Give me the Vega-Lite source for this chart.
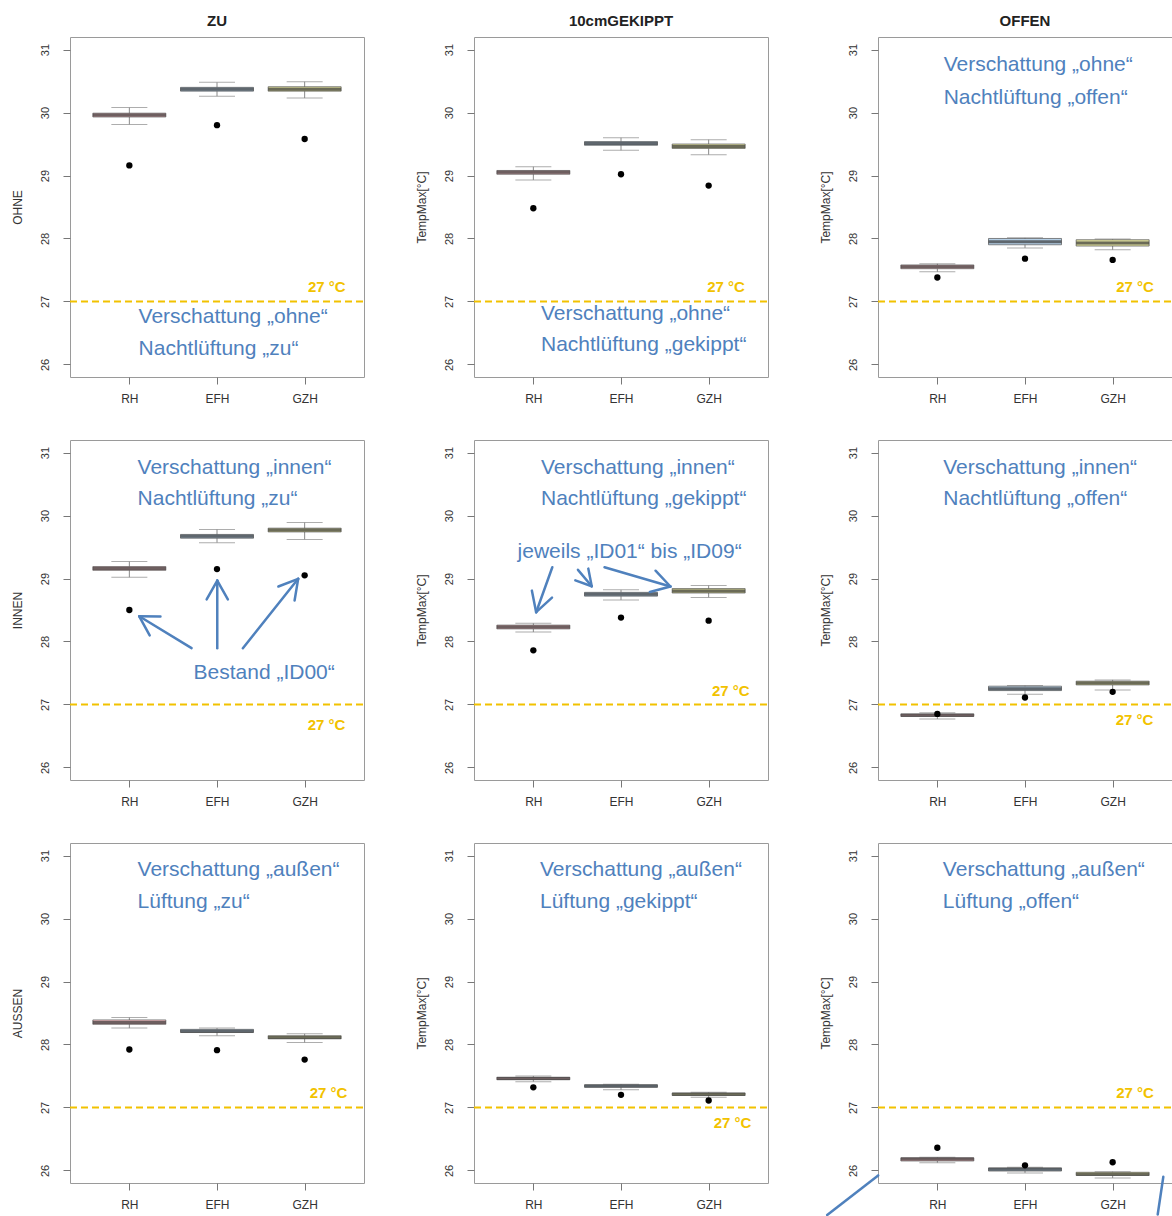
{
"$schema":"https://vega.github.io/schema/vega-lite/v6.json",
"background":"white",
"padding":{"left":10,"top":13,"right":0,"bottom":0},
"config":{
 "font":"Liberation Sans",
 "view":{"stroke":"#9a9a9a","strokeWidth":1},
 "axis":{"domain":false,"grid":false,"tickColor":"#777","tickSize":7,"labelFont":"Liberation Sans","labelFontSize":12,"labelColor":"#333","titleFont":"Liberation Sans","titleFontSize":12,"titleFontWeight":"normal","titleColor":"#333"},
 "axisY":{"labelAngle":-90,"labelAlign":"center","labelBaseline":"bottom","labelPadding":13,"labelFontSize":11,"minExtent":30,"maxExtent":30,"titlePadding":16},
 "axisX":{"labelPadding":9},
 "title":{"font":"Liberation Sans","fontSize":15,"fontWeight":"bold","color":"#222","offset":8,"anchor":"middle"},
 "concat":{"spacing":48}
},
"data":{"values":[
{"p":1,"k":"box","b":"RH","x":1,"lo":29.81,"q1":29.93,"med":29.96,"q3":29.99,"hi":30.08,"id00":29.16},
{"p":1,"k":"box","b":"EFH","x":2,"lo":30.26,"q1":30.34,"med":30.37,"q3":30.4,"hi":30.48,"id00":29.8},
{"p":1,"k":"box","b":"GZH","x":3,"lo":30.23,"q1":30.34,"med":30.37,"q3":30.41,"hi":30.49,"id00":29.58},
{"p":2,"k":"box","b":"RH","x":1,"lo":28.93,"q1":29.02,"med":29.05,"q3":29.08,"hi":29.14,"id00":28.48},
{"p":2,"k":"box","b":"EFH","x":2,"lo":29.4,"q1":29.48,"med":29.51,"q3":29.54,"hi":29.6,"id00":29.02},
{"p":2,"k":"box","b":"GZH","x":3,"lo":29.33,"q1":29.43,"med":29.46,"q3":29.5,"hi":29.57,"id00":28.84},
{"p":3,"k":"box","b":"RH","x":1,"lo":27.47,"q1":27.52,"med":27.55,"q3":27.58,"hi":27.6,"id00":27.38},
{"p":3,"k":"box","b":"EFH","x":2,"lo":27.85,"q1":27.9,"med":27.95,"q3":28.0,"hi":28.01,"id00":27.68},
{"p":3,"k":"box","b":"GZH","x":3,"lo":27.82,"q1":27.88,"med":27.93,"q3":27.98,"hi":27.99,"id00":27.66},
{"p":4,"k":"box","b":"RH","x":1,"lo":29.02,"q1":29.13,"med":29.16,"q3":29.19,"hi":29.27,"id00":28.5},
{"p":4,"k":"box","b":"EFH","x":2,"lo":29.57,"q1":29.64,"med":29.67,"q3":29.7,"hi":29.78,"id00":29.15},
{"p":4,"k":"box","b":"GZH","x":3,"lo":29.62,"q1":29.74,"med":29.77,"q3":29.8,"hi":29.89,"id00":29.05},
{"p":5,"k":"box","b":"RH","x":1,"lo":28.15,"q1":28.2,"med":28.23,"q3":28.26,"hi":28.29,"id00":27.86},
{"p":5,"k":"box","b":"EFH","x":2,"lo":28.66,"q1":28.72,"med":28.75,"q3":28.78,"hi":28.82,"id00":28.38},
{"p":5,"k":"box","b":"GZH","x":3,"lo":28.7,"q1":28.77,"med":28.8,"q3":28.84,"hi":28.89,"id00":28.33},
{"p":6,"k":"box","b":"RH","x":1,"lo":26.77,"q1":26.81,"med":26.83,"q3":26.85,"hi":26.87,"id00":26.85},
{"p":6,"k":"box","b":"EFH","x":2,"lo":27.16,"q1":27.22,"med":27.25,"q3":27.29,"hi":27.3,"id00":27.11},
{"p":6,"k":"box","b":"GZH","x":3,"lo":27.23,"q1":27.31,"med":27.34,"q3":27.37,"hi":27.39,"id00":27.2},
{"p":7,"k":"box","b":"RH","x":1,"lo":28.26,"q1":28.32,"med":28.35,"q3":28.39,"hi":28.43,"id00":27.92},
{"p":7,"k":"box","b":"EFH","x":2,"lo":28.14,"q1":28.19,"med":28.21,"q3":28.24,"hi":28.26,"id00":27.91},
{"p":7,"k":"box","b":"GZH","x":3,"lo":28.03,"q1":28.09,"med":28.11,"q3":28.14,"hi":28.17,"id00":27.76},
{"p":8,"k":"box","b":"RH","x":1,"lo":27.41,"q1":27.44,"med":27.46,"q3":27.48,"hi":27.5,"id00":27.32},
{"p":8,"k":"box","b":"EFH","x":2,"lo":27.28,"q1":27.32,"med":27.34,"q3":27.36,"hi":27.37,"id00":27.2},
{"p":8,"k":"box","b":"GZH","x":3,"lo":27.16,"q1":27.19,"med":27.21,"q3":27.23,"hi":27.24,"id00":27.11},
{"p":9,"k":"box","b":"RH","x":1,"lo":26.12,"q1":26.15,"med":26.18,"q3":26.2,"hi":26.21,"id00":26.36},
{"p":9,"k":"box","b":"EFH","x":2,"lo":25.96,"q1":25.99,"med":26.02,"q3":26.04,"hi":26.05,"id00":26.08},
{"p":9,"k":"box","b":"GZH","x":3,"lo":25.88,"q1":25.92,"med":25.94,"q3":25.97,"hi":25.98,"id00":26.13},
{"p":1,"k":"ref","y":27},{"p":2,"k":"ref","y":27},{"p":3,"k":"ref","y":27},
{"p":4,"k":"ref","y":27},{"p":5,"k":"ref","y":27},{"p":6,"k":"ref","y":27},
{"p":7,"k":"ref","y":27},{"p":8,"k":"ref","y":27},{"p":9,"k":"ref","y":27},
{"p":1,"k":"gold","x":3.468,"y":27.23,"t":"27 °C"},
{"p":2,"k":"gold","x":3.413,"y":27.23,"t":"27 °C"},
{"p":3,"k":"gold","x":3.471,"y":27.23,"t":"27 °C"},
{"p":4,"k":"gold","x":3.465,"y":26.68,"t":"27 °C"},
{"p":5,"k":"gold","x":3.468,"y":27.22,"t":"27 °C"},
{"p":6,"k":"gold","x":3.464,"y":26.75,"t":"27 °C"},
{"p":7,"k":"gold","x":3.487,"y":27.23,"t":"27 °C"},
{"p":8,"k":"gold","x":3.487,"y":26.76,"t":"27 °C"},
{"p":9,"k":"gold","x":3.471,"y":27.23,"t":"27 °C"},
{"p":1,"k":"note","x":1.105,"y":26.75,"t":"Verschattung „ohne“"},
{"p":1,"k":"note","x":1.105,"y":26.24,"t":"Nachtlüftung „zu“"},
{"p":2,"k":"note","x":1.087,"y":26.8,"t":"Verschattung „ohne“"},
{"p":2,"k":"note","x":1.087,"y":26.31,"t":"Nachtlüftung „gekippt“"},
{"p":3,"k":"note","x":1.072,"y":30.76,"t":"Verschattung „ohne“"},
{"p":3,"k":"note","x":1.072,"y":30.23,"t":"Nachtlüftung „offen“"},
{"p":4,"k":"note","x":1.094,"y":30.76,"t":"Verschattung „innen“"},
{"p":4,"k":"note","x":1.094,"y":30.27,"t":"Nachtlüftung „zu“"},
{"p":4,"k":"note","x":1.732,"y":27.5,"t":"Bestand „ID00“"},
{"p":5,"k":"note","x":1.087,"y":30.76,"t":"Verschattung „innen“"},
{"p":5,"k":"note","x":1.087,"y":30.27,"t":"Nachtlüftung „gekippt“"},
{"p":5,"k":"note","x":0.82,"y":29.42,"t":"jeweils „ID01“ bis „ID09“"},
{"p":6,"k":"note","x":1.067,"y":30.76,"t":"Verschattung „innen“"},
{"p":6,"k":"note","x":1.067,"y":30.27,"t":"Nachtlüftung „offen“"},
{"p":7,"k":"note","x":1.094,"y":30.77,"t":"Verschattung „außen“"},
{"p":7,"k":"note","x":1.094,"y":30.26,"t":"Lüftung „zu“"},
{"p":8,"k":"note","x":1.076,"y":30.77,"t":"Verschattung „außen“"},
{"p":8,"k":"note","x":1.076,"y":30.26,"t":"Lüftung „gekippt“"},
{"p":9,"k":"note","x":1.063,"y":30.77,"t":"Verschattung „außen“"},
{"p":9,"k":"note","x":1.063,"y":30.26,"t":"Lüftung „offen“"},
{"p":4,"k":"seg","x":1.71,"y":27.894,"x2":1.113,"y2":28.4},
{"p":4,"k":"seg","x":1.113,"y":28.4,"x2":1.232,"y2":28.097},
{"p":4,"k":"seg","x":1.113,"y":28.4,"x2":1.355,"y2":28.398},
{"p":4,"k":"seg","x":2.003,"y":27.894,"x2":2.003,"y2":28.968},
{"p":4,"k":"seg","x":2.003,"y":28.968,"x2":1.882,"y2":28.667},
{"p":4,"k":"seg","x":2.003,"y":28.968,"x2":2.124,"y2":28.667},
{"p":4,"k":"seg","x":2.295,"y":27.894,"x2":2.926,"y2":28.995},
{"p":4,"k":"seg","x":2.926,"y":28.995,"x2":2.7,"y2":28.873},
{"p":4,"k":"seg","x":2.926,"y":28.995,"x2":2.885,"y2":28.651},
{"p":5,"k":"seg","x":1.2165,"y":29.179,"x2":1.032,"y2":28.465},
{"p":5,"k":"seg","x":1.032,"y":28.465,"x2":1.213,"y2":28.697},
{"p":5,"k":"seg","x":1.032,"y":28.465,"x2":0.983,"y2":28.808},
{"p":5,"k":"seg","x":1.509,"y":29.138,"x2":1.666,"y2":28.878},
{"p":5,"k":"seg","x":1.666,"y":28.878,"x2":1.627,"y2":29.157},
{"p":5,"k":"seg","x":1.666,"y":28.878,"x2":1.479,"y2":28.97},
{"p":5,"k":"seg","x":1.812,"y":29.179,"x2":2.564,"y2":28.873},
{"p":5,"k":"seg","x":2.564,"y":28.873,"x2":2.394,"y2":29.124},
{"p":5,"k":"seg","x":2.564,"y":28.873,"x2":2.329,"y2":28.787},
{"p":9,"k":"seg","x":0.325,"y":25.92,"x2":-0.257,"y2":25.29},
{"p":9,"k":"seg","x":3.578,"y":25.9,"x2":3.514,"y2":25.3}
]},
"vconcat":[
{"hconcat":[
{"width":294,"height":340,"title":"ZU","transform":[{"filter":"datum.p==1"}],
 "encoding":{"x":{"field":"x","type":"quantitative","scale":{"domain":[0.38,3.62],"nice":false,"zero":false},"axis":{"values":[1,2,3],"labelExpr":"datum.value==1?'RH':datum.value==2?'EFH':'GZH'","title":null}},
  "y":{"field":"y","type":"quantitative","scale":{"domain":[25.8,31.2],"nice":false,"zero":false},"axis":{"values":[26,27,28,29,30,31],"title":"OHNE"}}},
 "layer":[
  {"transform":[{"filter":"datum.k=='ref'"}],"mark":{"type":"rule","color":"#f2c200","strokeWidth":2,"strokeDash":[7,4]},"encoding":{"x":{"value":0},"x2":{"value":"width"}}},
  {"transform":[{"filter":"datum.k=='box'"}],"layer":[
   {"mark":{"type":"rule","color":"#8a8a8a","strokeWidth":1},"encoding":{"y":{"field":"lo","type":"quantitative"},"y2":{"field":"hi"}}},
   {"mark":{"type":"tick","orient":"horizontal","size":36,"thickness":1,"color":"#8a8a8a"},"encoding":{"y":{"field":"lo","type":"quantitative"}}},
   {"mark":{"type":"tick","orient":"horizontal","size":36,"thickness":1,"color":"#8a8a8a"},"encoding":{"y":{"field":"hi","type":"quantitative"}}},
   {"mark":{"type":"bar","width":73,"stroke":"#555","strokeWidth":0.7},"encoding":{"y":{"field":"q1","type":"quantitative"},"y2":{"field":"q3"},"color":{"field":"b","type":"nominal","scale":{"domain":["RH","EFH","GZH"],"range":["#e8b4b8","#b4cfe6","#dede9c"]},"legend":null}}},
   {"mark":{"type":"tick","orient":"horizontal","size":73,"thickness":3,"color":"#3a3a3a"},"encoding":{"y":{"field":"med","type":"quantitative"}}},
   {"mark":{"type":"circle","color":"#000","size":40,"opacity":1},"encoding":{"y":{"field":"id00","type":"quantitative"}}}
  ]},
  {"transform":[{"filter":"datum.k=='seg'"}],"mark":{"type":"rule","color":"#4f81bd","strokeWidth":2.5,"strokeCap":"round","clip":false},"encoding":{"x2":{"field":"x2"},"y2":{"field":"y2"}}},
  {"transform":[{"filter":"datum.k=='note'"}],"mark":{"type":"text","align":"left","baseline":"middle","font":"Liberation Sans","fontSize":21,"color":"#4f81bd"},"encoding":{"text":{"field":"t"}}},
  {"transform":[{"filter":"datum.k=='gold'"}],"mark":{"type":"text","align":"right","baseline":"middle","font":"Liberation Sans","fontSize":15,"fontWeight":"bold","color":"#f2c200"},"encoding":{"text":{"field":"t"}}}
 ]},
{"width":294,"height":340,"title":"10cmGEKIPPT","transform":[{"filter":"datum.p==2"}],
 "encoding":{"x":{"field":"x","type":"quantitative","scale":{"domain":[0.38,3.62],"nice":false,"zero":false},"axis":{"values":[1,2,3],"labelExpr":"datum.value==1?'RH':datum.value==2?'EFH':'GZH'","title":null}},
  "y":{"field":"y","type":"quantitative","scale":{"domain":[25.8,31.2],"nice":false,"zero":false},"axis":{"values":[26,27,28,29,30,31],"title":"TempMax[°C]"}}},
 "layer":[
  {"transform":[{"filter":"datum.k=='ref'"}],"mark":{"type":"rule","color":"#f2c200","strokeWidth":2,"strokeDash":[7,4]},"encoding":{"x":{"value":0},"x2":{"value":"width"}}},
  {"transform":[{"filter":"datum.k=='box'"}],"layer":[
   {"mark":{"type":"rule","color":"#8a8a8a","strokeWidth":1},"encoding":{"y":{"field":"lo","type":"quantitative"},"y2":{"field":"hi"}}},
   {"mark":{"type":"tick","orient":"horizontal","size":36,"thickness":1,"color":"#8a8a8a"},"encoding":{"y":{"field":"lo","type":"quantitative"}}},
   {"mark":{"type":"tick","orient":"horizontal","size":36,"thickness":1,"color":"#8a8a8a"},"encoding":{"y":{"field":"hi","type":"quantitative"}}},
   {"mark":{"type":"bar","width":73,"stroke":"#555","strokeWidth":0.7},"encoding":{"y":{"field":"q1","type":"quantitative"},"y2":{"field":"q3"},"color":{"field":"b","type":"nominal","scale":{"domain":["RH","EFH","GZH"],"range":["#e8b4b8","#b4cfe6","#dede9c"]},"legend":null}}},
   {"mark":{"type":"tick","orient":"horizontal","size":73,"thickness":3,"color":"#3a3a3a"},"encoding":{"y":{"field":"med","type":"quantitative"}}},
   {"mark":{"type":"circle","color":"#000","size":40,"opacity":1},"encoding":{"y":{"field":"id00","type":"quantitative"}}}
  ]},
  {"transform":[{"filter":"datum.k=='seg'"}],"mark":{"type":"rule","color":"#4f81bd","strokeWidth":2.5,"strokeCap":"round","clip":false},"encoding":{"x2":{"field":"x2"},"y2":{"field":"y2"}}},
  {"transform":[{"filter":"datum.k=='note'"}],"mark":{"type":"text","align":"left","baseline":"middle","font":"Liberation Sans","fontSize":21,"color":"#4f81bd"},"encoding":{"text":{"field":"t"}}},
  {"transform":[{"filter":"datum.k=='gold'"}],"mark":{"type":"text","align":"right","baseline":"middle","font":"Liberation Sans","fontSize":15,"fontWeight":"bold","color":"#f2c200"},"encoding":{"text":{"field":"t"}}}
 ]},
{"width":294,"height":340,"title":"OFFEN","transform":[{"filter":"datum.p==3"}],
 "encoding":{"x":{"field":"x","type":"quantitative","scale":{"domain":[0.38,3.62],"nice":false,"zero":false},"axis":{"values":[1,2,3],"labelExpr":"datum.value==1?'RH':datum.value==2?'EFH':'GZH'","title":null}},
  "y":{"field":"y","type":"quantitative","scale":{"domain":[25.8,31.2],"nice":false,"zero":false},"axis":{"values":[26,27,28,29,30,31],"title":"TempMax[°C]"}}},
 "layer":[
  {"transform":[{"filter":"datum.k=='ref'"}],"mark":{"type":"rule","color":"#f2c200","strokeWidth":2,"strokeDash":[7,4]},"encoding":{"x":{"value":0},"x2":{"value":"width"}}},
  {"transform":[{"filter":"datum.k=='box'"}],"layer":[
   {"mark":{"type":"rule","color":"#8a8a8a","strokeWidth":1},"encoding":{"y":{"field":"lo","type":"quantitative"},"y2":{"field":"hi"}}},
   {"mark":{"type":"tick","orient":"horizontal","size":36,"thickness":1,"color":"#8a8a8a"},"encoding":{"y":{"field":"lo","type":"quantitative"}}},
   {"mark":{"type":"tick","orient":"horizontal","size":36,"thickness":1,"color":"#8a8a8a"},"encoding":{"y":{"field":"hi","type":"quantitative"}}},
   {"mark":{"type":"bar","width":73,"stroke":"#555","strokeWidth":0.7},"encoding":{"y":{"field":"q1","type":"quantitative"},"y2":{"field":"q3"},"color":{"field":"b","type":"nominal","scale":{"domain":["RH","EFH","GZH"],"range":["#e8b4b8","#b4cfe6","#dede9c"]},"legend":null}}},
   {"mark":{"type":"tick","orient":"horizontal","size":73,"thickness":3,"color":"#3a3a3a"},"encoding":{"y":{"field":"med","type":"quantitative"}}},
   {"mark":{"type":"circle","color":"#000","size":40,"opacity":1},"encoding":{"y":{"field":"id00","type":"quantitative"}}}
  ]},
  {"transform":[{"filter":"datum.k=='seg'"}],"mark":{"type":"rule","color":"#4f81bd","strokeWidth":2.5,"strokeCap":"round","clip":false},"encoding":{"x2":{"field":"x2"},"y2":{"field":"y2"}}},
  {"transform":[{"filter":"datum.k=='note'"}],"mark":{"type":"text","align":"left","baseline":"middle","font":"Liberation Sans","fontSize":21,"color":"#4f81bd"},"encoding":{"text":{"field":"t"}}},
  {"transform":[{"filter":"datum.k=='gold'"}],"mark":{"type":"text","align":"right","baseline":"middle","font":"Liberation Sans","fontSize":15,"fontWeight":"bold","color":"#f2c200"},"encoding":{"text":{"field":"t"}}}
 ]}
]},
{"hconcat":[
{"width":294,"height":340,"transform":[{"filter":"datum.p==4"}],
 "encoding":{"x":{"field":"x","type":"quantitative","scale":{"domain":[0.38,3.62],"nice":false,"zero":false},"axis":{"values":[1,2,3],"labelExpr":"datum.value==1?'RH':datum.value==2?'EFH':'GZH'","title":null}},
  "y":{"field":"y","type":"quantitative","scale":{"domain":[25.8,31.2],"nice":false,"zero":false},"axis":{"values":[26,27,28,29,30,31],"title":"INNEN"}}},
 "layer":[
  {"transform":[{"filter":"datum.k=='ref'"}],"mark":{"type":"rule","color":"#f2c200","strokeWidth":2,"strokeDash":[7,4]},"encoding":{"x":{"value":0},"x2":{"value":"width"}}},
  {"transform":[{"filter":"datum.k=='box'"}],"layer":[
   {"mark":{"type":"rule","color":"#8a8a8a","strokeWidth":1},"encoding":{"y":{"field":"lo","type":"quantitative"},"y2":{"field":"hi"}}},
   {"mark":{"type":"tick","orient":"horizontal","size":36,"thickness":1,"color":"#8a8a8a"},"encoding":{"y":{"field":"lo","type":"quantitative"}}},
   {"mark":{"type":"tick","orient":"horizontal","size":36,"thickness":1,"color":"#8a8a8a"},"encoding":{"y":{"field":"hi","type":"quantitative"}}},
   {"mark":{"type":"bar","width":73,"stroke":"#555","strokeWidth":0.7},"encoding":{"y":{"field":"q1","type":"quantitative"},"y2":{"field":"q3"},"color":{"field":"b","type":"nominal","scale":{"domain":["RH","EFH","GZH"],"range":["#e8b4b8","#b4cfe6","#dede9c"]},"legend":null}}},
   {"mark":{"type":"tick","orient":"horizontal","size":73,"thickness":3,"color":"#3a3a3a"},"encoding":{"y":{"field":"med","type":"quantitative"}}},
   {"mark":{"type":"circle","color":"#000","size":40,"opacity":1},"encoding":{"y":{"field":"id00","type":"quantitative"}}}
  ]},
  {"transform":[{"filter":"datum.k=='seg'"}],"mark":{"type":"rule","color":"#4f81bd","strokeWidth":2.5,"strokeCap":"round","clip":false},"encoding":{"x2":{"field":"x2"},"y2":{"field":"y2"}}},
  {"transform":[{"filter":"datum.k=='note'"}],"mark":{"type":"text","align":"left","baseline":"middle","font":"Liberation Sans","fontSize":21,"color":"#4f81bd"},"encoding":{"text":{"field":"t"}}},
  {"transform":[{"filter":"datum.k=='gold'"}],"mark":{"type":"text","align":"right","baseline":"middle","font":"Liberation Sans","fontSize":15,"fontWeight":"bold","color":"#f2c200"},"encoding":{"text":{"field":"t"}}}
 ]},
{"width":294,"height":340,"transform":[{"filter":"datum.p==5"}],
 "encoding":{"x":{"field":"x","type":"quantitative","scale":{"domain":[0.38,3.62],"nice":false,"zero":false},"axis":{"values":[1,2,3],"labelExpr":"datum.value==1?'RH':datum.value==2?'EFH':'GZH'","title":null}},
  "y":{"field":"y","type":"quantitative","scale":{"domain":[25.8,31.2],"nice":false,"zero":false},"axis":{"values":[26,27,28,29,30,31],"title":"TempMax[°C]"}}},
 "layer":[
  {"transform":[{"filter":"datum.k=='ref'"}],"mark":{"type":"rule","color":"#f2c200","strokeWidth":2,"strokeDash":[7,4]},"encoding":{"x":{"value":0},"x2":{"value":"width"}}},
  {"transform":[{"filter":"datum.k=='box'"}],"layer":[
   {"mark":{"type":"rule","color":"#8a8a8a","strokeWidth":1},"encoding":{"y":{"field":"lo","type":"quantitative"},"y2":{"field":"hi"}}},
   {"mark":{"type":"tick","orient":"horizontal","size":36,"thickness":1,"color":"#8a8a8a"},"encoding":{"y":{"field":"lo","type":"quantitative"}}},
   {"mark":{"type":"tick","orient":"horizontal","size":36,"thickness":1,"color":"#8a8a8a"},"encoding":{"y":{"field":"hi","type":"quantitative"}}},
   {"mark":{"type":"bar","width":73,"stroke":"#555","strokeWidth":0.7},"encoding":{"y":{"field":"q1","type":"quantitative"},"y2":{"field":"q3"},"color":{"field":"b","type":"nominal","scale":{"domain":["RH","EFH","GZH"],"range":["#e8b4b8","#b4cfe6","#dede9c"]},"legend":null}}},
   {"mark":{"type":"tick","orient":"horizontal","size":73,"thickness":3,"color":"#3a3a3a"},"encoding":{"y":{"field":"med","type":"quantitative"}}},
   {"mark":{"type":"circle","color":"#000","size":40,"opacity":1},"encoding":{"y":{"field":"id00","type":"quantitative"}}}
  ]},
  {"transform":[{"filter":"datum.k=='seg'"}],"mark":{"type":"rule","color":"#4f81bd","strokeWidth":2.5,"strokeCap":"round","clip":false},"encoding":{"x2":{"field":"x2"},"y2":{"field":"y2"}}},
  {"transform":[{"filter":"datum.k=='note'"}],"mark":{"type":"text","align":"left","baseline":"middle","font":"Liberation Sans","fontSize":21,"color":"#4f81bd"},"encoding":{"text":{"field":"t"}}},
  {"transform":[{"filter":"datum.k=='gold'"}],"mark":{"type":"text","align":"right","baseline":"middle","font":"Liberation Sans","fontSize":15,"fontWeight":"bold","color":"#f2c200"},"encoding":{"text":{"field":"t"}}}
 ]},
{"width":294,"height":340,"transform":[{"filter":"datum.p==6"}],
 "encoding":{"x":{"field":"x","type":"quantitative","scale":{"domain":[0.38,3.62],"nice":false,"zero":false},"axis":{"values":[1,2,3],"labelExpr":"datum.value==1?'RH':datum.value==2?'EFH':'GZH'","title":null}},
  "y":{"field":"y","type":"quantitative","scale":{"domain":[25.8,31.2],"nice":false,"zero":false},"axis":{"values":[26,27,28,29,30,31],"title":"TempMax[°C]"}}},
 "layer":[
  {"transform":[{"filter":"datum.k=='ref'"}],"mark":{"type":"rule","color":"#f2c200","strokeWidth":2,"strokeDash":[7,4]},"encoding":{"x":{"value":0},"x2":{"value":"width"}}},
  {"transform":[{"filter":"datum.k=='box'"}],"layer":[
   {"mark":{"type":"rule","color":"#8a8a8a","strokeWidth":1},"encoding":{"y":{"field":"lo","type":"quantitative"},"y2":{"field":"hi"}}},
   {"mark":{"type":"tick","orient":"horizontal","size":36,"thickness":1,"color":"#8a8a8a"},"encoding":{"y":{"field":"lo","type":"quantitative"}}},
   {"mark":{"type":"tick","orient":"horizontal","size":36,"thickness":1,"color":"#8a8a8a"},"encoding":{"y":{"field":"hi","type":"quantitative"}}},
   {"mark":{"type":"bar","width":73,"stroke":"#555","strokeWidth":0.7},"encoding":{"y":{"field":"q1","type":"quantitative"},"y2":{"field":"q3"},"color":{"field":"b","type":"nominal","scale":{"domain":["RH","EFH","GZH"],"range":["#e8b4b8","#b4cfe6","#dede9c"]},"legend":null}}},
   {"mark":{"type":"tick","orient":"horizontal","size":73,"thickness":3,"color":"#3a3a3a"},"encoding":{"y":{"field":"med","type":"quantitative"}}},
   {"mark":{"type":"circle","color":"#000","size":40,"opacity":1},"encoding":{"y":{"field":"id00","type":"quantitative"}}}
  ]},
  {"transform":[{"filter":"datum.k=='seg'"}],"mark":{"type":"rule","color":"#4f81bd","strokeWidth":2.5,"strokeCap":"round","clip":false},"encoding":{"x2":{"field":"x2"},"y2":{"field":"y2"}}},
  {"transform":[{"filter":"datum.k=='note'"}],"mark":{"type":"text","align":"left","baseline":"middle","font":"Liberation Sans","fontSize":21,"color":"#4f81bd"},"encoding":{"text":{"field":"t"}}},
  {"transform":[{"filter":"datum.k=='gold'"}],"mark":{"type":"text","align":"right","baseline":"middle","font":"Liberation Sans","fontSize":15,"fontWeight":"bold","color":"#f2c200"},"encoding":{"text":{"field":"t"}}}
 ]}
]},
{"hconcat":[
{"width":294,"height":340,"transform":[{"filter":"datum.p==7"}],
 "encoding":{"x":{"field":"x","type":"quantitative","scale":{"domain":[0.38,3.62],"nice":false,"zero":false},"axis":{"values":[1,2,3],"labelExpr":"datum.value==1?'RH':datum.value==2?'EFH':'GZH'","title":null}},
  "y":{"field":"y","type":"quantitative","scale":{"domain":[25.8,31.2],"nice":false,"zero":false},"axis":{"values":[26,27,28,29,30,31],"title":"AUSSEN"}}},
 "layer":[
  {"transform":[{"filter":"datum.k=='ref'"}],"mark":{"type":"rule","color":"#f2c200","strokeWidth":2,"strokeDash":[7,4]},"encoding":{"x":{"value":0},"x2":{"value":"width"}}},
  {"transform":[{"filter":"datum.k=='box'"}],"layer":[
   {"mark":{"type":"rule","color":"#8a8a8a","strokeWidth":1},"encoding":{"y":{"field":"lo","type":"quantitative"},"y2":{"field":"hi"}}},
   {"mark":{"type":"tick","orient":"horizontal","size":36,"thickness":1,"color":"#8a8a8a"},"encoding":{"y":{"field":"lo","type":"quantitative"}}},
   {"mark":{"type":"tick","orient":"horizontal","size":36,"thickness":1,"color":"#8a8a8a"},"encoding":{"y":{"field":"hi","type":"quantitative"}}},
   {"mark":{"type":"bar","width":73,"stroke":"#555","strokeWidth":0.7},"encoding":{"y":{"field":"q1","type":"quantitative"},"y2":{"field":"q3"},"color":{"field":"b","type":"nominal","scale":{"domain":["RH","EFH","GZH"],"range":["#e8b4b8","#b4cfe6","#dede9c"]},"legend":null}}},
   {"mark":{"type":"tick","orient":"horizontal","size":73,"thickness":3,"color":"#3a3a3a"},"encoding":{"y":{"field":"med","type":"quantitative"}}},
   {"mark":{"type":"circle","color":"#000","size":40,"opacity":1},"encoding":{"y":{"field":"id00","type":"quantitative"}}}
  ]},
  {"transform":[{"filter":"datum.k=='seg'"}],"mark":{"type":"rule","color":"#4f81bd","strokeWidth":2.5,"strokeCap":"round","clip":false},"encoding":{"x2":{"field":"x2"},"y2":{"field":"y2"}}},
  {"transform":[{"filter":"datum.k=='note'"}],"mark":{"type":"text","align":"left","baseline":"middle","font":"Liberation Sans","fontSize":21,"color":"#4f81bd"},"encoding":{"text":{"field":"t"}}},
  {"transform":[{"filter":"datum.k=='gold'"}],"mark":{"type":"text","align":"right","baseline":"middle","font":"Liberation Sans","fontSize":15,"fontWeight":"bold","color":"#f2c200"},"encoding":{"text":{"field":"t"}}}
 ]},
{"width":294,"height":340,"transform":[{"filter":"datum.p==8"}],
 "encoding":{"x":{"field":"x","type":"quantitative","scale":{"domain":[0.38,3.62],"nice":false,"zero":false},"axis":{"values":[1,2,3],"labelExpr":"datum.value==1?'RH':datum.value==2?'EFH':'GZH'","title":null}},
  "y":{"field":"y","type":"quantitative","scale":{"domain":[25.8,31.2],"nice":false,"zero":false},"axis":{"values":[26,27,28,29,30,31],"title":"TempMax[°C]"}}},
 "layer":[
  {"transform":[{"filter":"datum.k=='ref'"}],"mark":{"type":"rule","color":"#f2c200","strokeWidth":2,"strokeDash":[7,4]},"encoding":{"x":{"value":0},"x2":{"value":"width"}}},
  {"transform":[{"filter":"datum.k=='box'"}],"layer":[
   {"mark":{"type":"rule","color":"#8a8a8a","strokeWidth":1},"encoding":{"y":{"field":"lo","type":"quantitative"},"y2":{"field":"hi"}}},
   {"mark":{"type":"tick","orient":"horizontal","size":36,"thickness":1,"color":"#8a8a8a"},"encoding":{"y":{"field":"lo","type":"quantitative"}}},
   {"mark":{"type":"tick","orient":"horizontal","size":36,"thickness":1,"color":"#8a8a8a"},"encoding":{"y":{"field":"hi","type":"quantitative"}}},
   {"mark":{"type":"bar","width":73,"stroke":"#555","strokeWidth":0.7},"encoding":{"y":{"field":"q1","type":"quantitative"},"y2":{"field":"q3"},"color":{"field":"b","type":"nominal","scale":{"domain":["RH","EFH","GZH"],"range":["#e8b4b8","#b4cfe6","#dede9c"]},"legend":null}}},
   {"mark":{"type":"tick","orient":"horizontal","size":73,"thickness":3,"color":"#3a3a3a"},"encoding":{"y":{"field":"med","type":"quantitative"}}},
   {"mark":{"type":"circle","color":"#000","size":40,"opacity":1},"encoding":{"y":{"field":"id00","type":"quantitative"}}}
  ]},
  {"transform":[{"filter":"datum.k=='seg'"}],"mark":{"type":"rule","color":"#4f81bd","strokeWidth":2.5,"strokeCap":"round","clip":false},"encoding":{"x2":{"field":"x2"},"y2":{"field":"y2"}}},
  {"transform":[{"filter":"datum.k=='note'"}],"mark":{"type":"text","align":"left","baseline":"middle","font":"Liberation Sans","fontSize":21,"color":"#4f81bd"},"encoding":{"text":{"field":"t"}}},
  {"transform":[{"filter":"datum.k=='gold'"}],"mark":{"type":"text","align":"right","baseline":"middle","font":"Liberation Sans","fontSize":15,"fontWeight":"bold","color":"#f2c200"},"encoding":{"text":{"field":"t"}}}
 ]},
{"width":294,"height":340,"transform":[{"filter":"datum.p==9"}],
 "encoding":{"x":{"field":"x","type":"quantitative","scale":{"domain":[0.38,3.62],"nice":false,"zero":false},"axis":{"values":[1,2,3],"labelExpr":"datum.value==1?'RH':datum.value==2?'EFH':'GZH'","title":null}},
  "y":{"field":"y","type":"quantitative","scale":{"domain":[25.8,31.2],"nice":false,"zero":false},"axis":{"values":[26,27,28,29,30,31],"title":"TempMax[°C]"}}},
 "layer":[
  {"transform":[{"filter":"datum.k=='ref'"}],"mark":{"type":"rule","color":"#f2c200","strokeWidth":2,"strokeDash":[7,4]},"encoding":{"x":{"value":0},"x2":{"value":"width"}}},
  {"transform":[{"filter":"datum.k=='box'"}],"layer":[
   {"mark":{"type":"rule","color":"#8a8a8a","strokeWidth":1},"encoding":{"y":{"field":"lo","type":"quantitative"},"y2":{"field":"hi"}}},
   {"mark":{"type":"tick","orient":"horizontal","size":36,"thickness":1,"color":"#8a8a8a"},"encoding":{"y":{"field":"lo","type":"quantitative"}}},
   {"mark":{"type":"tick","orient":"horizontal","size":36,"thickness":1,"color":"#8a8a8a"},"encoding":{"y":{"field":"hi","type":"quantitative"}}},
   {"mark":{"type":"bar","width":73,"stroke":"#555","strokeWidth":0.7},"encoding":{"y":{"field":"q1","type":"quantitative"},"y2":{"field":"q3"},"color":{"field":"b","type":"nominal","scale":{"domain":["RH","EFH","GZH"],"range":["#e8b4b8","#b4cfe6","#dede9c"]},"legend":null}}},
   {"mark":{"type":"tick","orient":"horizontal","size":73,"thickness":3,"color":"#3a3a3a"},"encoding":{"y":{"field":"med","type":"quantitative"}}},
   {"mark":{"type":"circle","color":"#000","size":40,"opacity":1},"encoding":{"y":{"field":"id00","type":"quantitative"}}}
  ]},
  {"transform":[{"filter":"datum.k=='seg'"}],"mark":{"type":"rule","color":"#4f81bd","strokeWidth":2.5,"strokeCap":"round","clip":false},"encoding":{"x2":{"field":"x2"},"y2":{"field":"y2"}}},
  {"transform":[{"filter":"datum.k=='note'"}],"mark":{"type":"text","align":"left","baseline":"middle","font":"Liberation Sans","fontSize":21,"color":"#4f81bd"},"encoding":{"text":{"field":"t"}}},
  {"transform":[{"filter":"datum.k=='gold'"}],"mark":{"type":"text","align":"right","baseline":"middle","font":"Liberation Sans","fontSize":15,"fontWeight":"bold","color":"#f2c200"},"encoding":{"text":{"field":"t"}}}
 ]}
]}
],
"spacing":34
}
